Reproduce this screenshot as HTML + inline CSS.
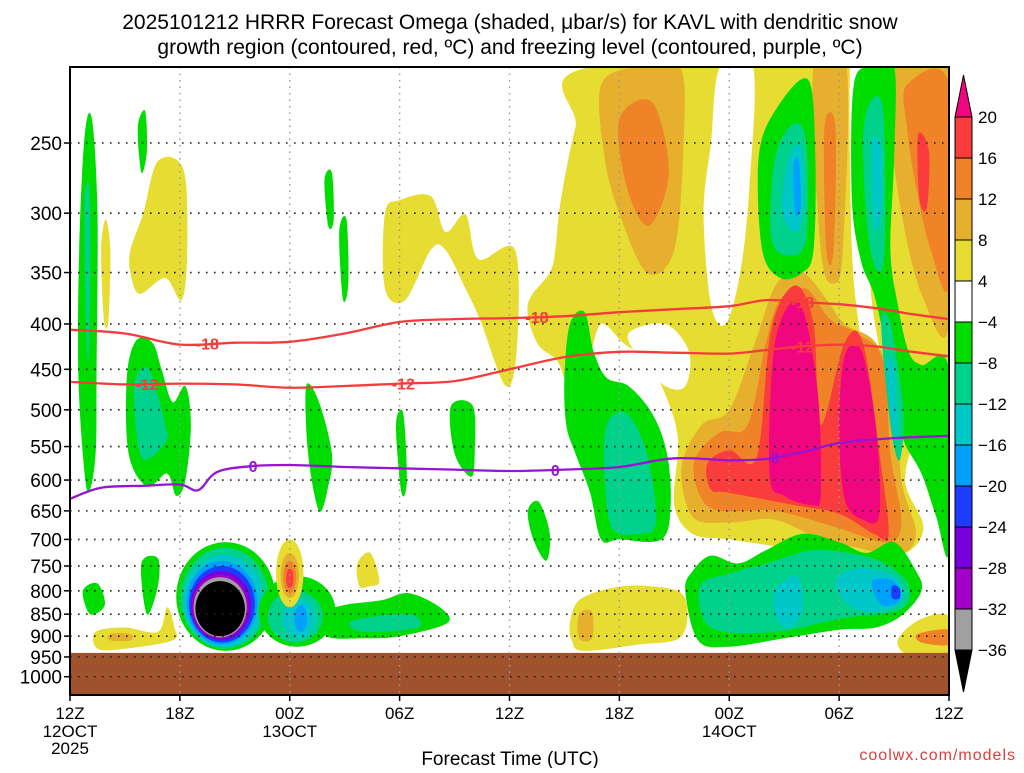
<!DOCTYPE html>
<html><head><meta charset="utf-8">
<style>
html,body{margin:0;padding:0;background:#fff;}
body{width:1024px;height:768px;overflow:hidden;font-family:"Liberation Sans",sans-serif;}
svg text{font-family:"Liberation Sans",sans-serif;}
</style></head>
<body>
<svg id="chart" width="1024" height="768" viewBox="0 0 1024 768" xmlns="http://www.w3.org/2000/svg">
<g>
<text x="510" y="29" text-anchor="middle" font-size="21" fill="#000">2025101212 HRRR Forecast Omega (shaded, μbar/s) for KAVL with dendritic snow</text>
<text x="510" y="54" text-anchor="middle" font-size="21" fill="#000">growth region (contoured, red, ºC) and freezing level (contoured, purple, ºC)</text>
</g>
<g id="fills"></g>
<g id="grid"></g>
<g id="lines"></g>
<g id="axes"></g>
<g id="cbar"></g>
<text x="510" y="765" text-anchor="middle" font-size="19" fill="#000">Forecast Time (UTC)</text>
<text x="1016" y="760" text-anchor="end" font-size="16" fill="#e03c3c" letter-spacing="1">coolwx.com/models</text>
</svg>
<script>
// ---- data ----
const xTickHours = [0,6,12,18,24,30,36,42,48];
const xTickLabels = ["12Z","18Z","00Z","06Z","12Z","18Z","00Z","06Z","12Z"];
const xDateLabels = {0:["12OCT","2025"],12:["13OCT"],36:["14OCT"]};
const yTicks = [250,300,350,400,450,500,550,600,650,700,750,800,850,900,950,1000];
const cbarLevels = ["20","16","12","8","4","-4","-8","-12","-16","-20","-24","-28","-32","-36"];
const cbarColors = ["#fa3c3c","#f08228","#e6af2d","#e6dc32","#ffffff","#00dc00","#00d28c","#00c8c8","#00a0ff","#1e3cff","#7800dc","#a000c8","#a0a0a0"];
const C = {pk:"#f0067e",rd:"#fa3c3c",or:"#f08228",dy:"#e6af2d",ye:"#e6dc32",wh:"#ffffff",gr:"#00dc00",tg:"#00d28c",cy:"#00c8c8",lb:"#00a0ff",bl:"#1e3cff",pu:"#7800dc",mg:"#a000c8",gy:"#a0a0a0",bk:"#000000"};

const contHours = [0,3,6,9,12,15,18,21,24,27,30,33,36,38,40,42,44,46,48];
const tMinus18 = [406,410,422,420,419,410,398,395,394,392,388,385,382,376,378,380,384,390,395];
const tMinus12 = [465,468,467,468,472,470,467,464,450,436,430,431,432,428,424,422,424,430,435];
const contHours0 = [0,1.7,4,6,7,8,9.8,12,15,18,21,24,27,30,33,36,38,40,42,45,48];
const tZero = [630,612,609,607,616,588,579,577,580,582,584,586,584,580,567,570,568,558,545,538,535];
const labels18 = [7.5,25.5,40];
const labels12 = [4.2,18.2,40];
const labels0 = [10,26.5,38.5];

// polygon fills: [level, [[hour,pressure],...]]
const polys = [
 ["ye",[[17.2,300],[18,290],[19.7,287],[20.5,315],[21.6,301],[22.3,338],[24.3,330],[24.4,427],[23.8,470],[22.4,396],[21.6,365],[20.5,330],[19.7,330],[18.3,376],[17.2,365]]],
 ["ye",[[3.3,330],[4,300],[4.8,262],[6.2,268],[6.4,330],[6.1,376],[5.2,355],[3.8,370],[3.3,350]]],
 ["ye",[[1.7,330],[1.95,305],[2.2,330],[2.1,396],[1.85,396]]],
 ["ye",[[26.5,330],[26.8,290],[27.6,240],[28.6,205],[48,205],[48,480],[46.5,520],[45.6,600],[46.6,680],[45.3,730],[42,730],[39,715],[36,700],[34,690],[33,640],[33.2,540],[32.5,480],[31.5,440],[30.2,420],[29,400],[28.3,440],[27.3,470],[26.6,440],[25.5,420],[25,380],[26.2,350]]],
 ["wh",[[35.5,205],[37.3,205],[37.1,280],[36.6,350],[35.8,400],[35,380],[34.6,300],[35,250]]],
 ["wh",[[30.5,410],[32.5,400],[33.8,430],[33.6,470],[32.5,470],[31.2,440]]],
 ["wh",[[42.6,205],[43.2,205],[43.5,300],[43.8,380],[44.6,470],[45,560],[45.4,640],[44.8,700],[44.2,640],[43.8,520],[43.2,420],[42.7,330]]],
 ["dy",[[29,215],[31,205],[33.3,205],[33.5,250],[33,330],[31.5,350],[30,300],[29.2,260]]],
 ["or",[[30,235],[31.8,225],[32.7,270],[31.6,310],[30.4,280]]],
 ["dy",[[40.6,205],[42.4,205],[42.2,330],[41.7,360],[41,330]]],
 ["or",[[41.2,240],[41.8,240],[41.7,330],[41.3,330]]],
 ["dy",[[44.8,205],[48,205],[48,400],[46.5,370],[45.4,300],[44.8,240]]],
 ["or",[[45.7,215],[48,215],[48,360],[47,330],[46.2,280],[45.7,240]]],
 ["rd",[[46.3,245],[46.9,255],[46.8,295],[46.4,290]]],
 ["dy",[[33.4,580],[34.5,520],[36,500],[37.4,420],[38.6,360],[40,350],[41.3,375],[42.3,400],[44,420],[45.1,480],[45.4,600],[46.2,690],[45.2,730],[43,715],[41,700],[38.5,665],[36,670],[34,660]]],
 ["or",[[34.1,570],[35.5,530],[37,520],[38,420],[38.8,375],[40.2,365],[41.5,395],[43,410],[44.4,440],[44.8,560],[45.4,670],[44.6,705],[42,680],[38.5,650],[35.5,650],[34.4,625]]],
 ["rd",[[34.8,575],[36,555],[37.5,565],[38.3,405],[39.6,362],[40.6,400],[41,520],[42.3,420],[43.3,420],[44.2,560],[44.7,690],[43.9,690],[42,655],[39.5,640],[36,620],[35,615]]],
 ["pk",[[38.5,420],[39.8,378],[40.8,470],[41,620],[40.5,640],[39,625],[38.2,590]]],
 ["pk",[[42.3,435],[43.2,428],[44,520],[44.2,655],[43.3,665],[42.3,630],[42,520]]],
 ["gr",[[37.8,330],[37.6,260],[38.5,230],[40.3,212],[40.7,260],[40.6,330],[40,350],[38.8,355]]],
 ["tg",[[38.3,320],[38.5,260],[39.5,238],[40.2,250],[40.2,320],[39.3,335]]],
 ["cy",[[38.9,300],[39.2,262],[39.9,252],[40.1,290],[39.7,315]]],
 ["lb",[[39.5,265],[39.8,262],[39.9,295],[39.6,300]]],
 ["gr",[[42.8,215],[43.8,205],[45,205],[45,260],[44.8,330],[45.2,380],[45.8,430],[46.5,445],[48,450],[48,720],[47.3,660],[46.5,590],[45.5,540],[45,480],[44.5,420],[43.9,370],[43.2,340],[42.7,290]]],
 ["tg",[[43.3,250],[43.7,225],[44.4,230],[44.5,320],[44.2,350],[43.6,320]]],
 ["cy",[[43.8,250],[44.3,255],[44.3,300],[43.9,310]]],
 ["tg",[[44.3,400],[44.8,400],[45.5,500],[45.3,570],[44.8,520]]],
 ["cy",[[44.6,440],[45,450],[45.2,530],[44.9,520]]],
 ["gr",[[0.5,330],[0.8,245],[1.2,235],[1.5,300],[1.45,450],[1.4,560],[1.0,620],[0.7,560],[0.45,450]]],
 ["tg",[[0.8,290],[1.1,290],[1.05,420],[0.9,420]]],
 ["gr",[[3.7,240],[4.1,230],[4.2,255],[3.9,270]]],
 ["gr",[[3.1,460],[3.6,418],[4.5,420],[5,450],[5.6,490],[6.3,470],[6.6,520],[6.3,600],[5.8,625],[5.3,590],[4.2,610],[3.2,560]]],
 ["tg",[[3.5,470],[4.3,450],[5.2,520],[5.2,545],[3.9,565]]],
 ["gr",[[13.9,275],[14.3,270],[14.4,305],[14.1,310]]],
 ["gr",[[14.7,315],[15.1,305],[15.2,360],[14.9,375]]],
 ["gr",[[12.9,470],[13.6,490],[14.3,560],[14.1,610],[13.6,650],[13,560]]],
 ["gr",[[17.8,520],[18.2,505],[18.4,600],[18.1,620]]],
 ["gr",[[20.8,495],[22,495],[22.1,560],[21.9,595],[21,560]]],
 ["gr",[[25,650],[25.6,635],[26.2,690],[26,740],[25.3,700]]],
 ["gr",[[27,460],[27.3,400],[28.1,388],[28.6,430],[29.3,460],[30.5,470],[31.8,505],[32.6,560],[32.8,640],[32.3,700],[30,700],[29,700],[28.4,620],[27.6,560],[27.1,520]]],
 ["tg",[[29.3,520],[30.4,505],[31.5,560],[32,670],[31,690],[29.6,680],[29.2,600]]],
 ["gr",[[0.7,800],[1.5,785],[1.9,830],[1.1,850]]],
 ["gr",[[3.9,745],[4.8,735],[4.8,790],[4.2,850]]],
 ["gr",[[13.7,850],[15,830],[17,820],[18.5,805],[20.2,835],[20.6,870],[18,900],[16,905],[14,900]]],
 ["tg",[[15.4,865],[18.5,850],[19,880],[16,890]]],
 ["ye",[[1.4,890],[3,880],[4.8,890],[5.3,835],[5.7,880],[5.6,910],[3,930],[1.5,930]]],
 ["dy",[[2.2,895],[3.3,895],[3.3,910],[2.2,910]]],
 ["ye",[[15.7,745],[16.4,725],[16.9,780],[16.4,790],[15.8,790]]],
 ["ye",[[27.3,870],[27.8,820],[29.5,795],[31.5,790],[33.5,810],[33.4,900],[31,920],[28,935],[27.4,910]]],
 ["dy",[[27.8,850],[28.5,845],[28.5,905],[27.8,905]]],
 ["gr",[[33.6,800],[34,760],[35,730],[36.5,745],[38,720],[40,690],[42,705],[43.5,725],[45,705],[46.2,760],[46.5,800],[45.5,850],[44,880],[42,885],[39,905],[36,925],[34.3,910]]],
 ["tg",[[34.4,790],[36,765],[38,745],[40.5,720],[42.5,725],[44.5,745],[45.8,790],[45.3,840],[42,860],[38.5,890],[35,880]]],
 ["cy",[[38.5,800],[39.7,770],[40,840],[39.3,880],[38.6,860]]],
 ["cy",[[41.8,780],[43,755],[45,770],[45.5,820],[44,845],[42.5,830]]],
 ["lb",[[43.8,780],[45,780],[45.3,820],[44.3,830]]],
 ["bl",[[44.9,790],[45.3,795],[45.3,815],[44.9,815]]],
 ["ye",[[45.3,900],[46.5,860],[48,855],[48,945],[46,945],[45.3,930]]],
 ["or",[[46.3,895],[48,885],[48,920],[46.5,915]]]
];
// elliptical fills: [level, hourCenter, halfWidthHours, pTop, pBottom]
const rings = [
 ["gr",8.5,2.7,705,935],["tg",8.45,2.4,715,930],["cy",8.4,2.2,728,925],["lb",8.3,1.95,740,920],
 ["bl",8.3,1.8,750,915],["pu",8.25,1.65,760,910],["mg",8.2,1.55,767,905],["gy",8.2,1.45,772,903],["bk",8.2,1.35,780,900],
 ["gr",12.4,2.1,770,925],["tg",12.3,1.5,800,915],["cy",12.5,0.9,815,905],["lb",12.6,0.35,830,890],
 ["ye",12,0.75,700,835],["dy",12,0.5,725,815],["or",12,0.35,740,805],["rd",12,0.2,755,795]
];
const groundTop = 940;

// ---- scales ----
const X0=70, X1=949, Y0=67, Y1=695;
const xS = h => X0 + h*(X1-X0)/48;
const yS = p => 143 + 385*Math.log(p/250);
const NS="http://www.w3.org/2000/svg";
function el(tag, attrs, parent){const e=document.createElementNS(NS,tag);for(const k in attrs)e.setAttribute(k,attrs[k]);parent.appendChild(e);return e;}
function smoothClosed(pts){
  const n=pts.length;let d=`M${pts[0][0].toFixed(1)},${pts[0][1].toFixed(1)}`;
  for(let i=0;i<n;i++){const p0=pts[(i-1+n)%n],p1=pts[i],p2=pts[(i+1)%n],p3=pts[(i+2)%n];
    const c1=[p1[0]+(p2[0]-p0[0])/6,p1[1]+(p2[1]-p0[1])/6],c2=[p2[0]-(p3[0]-p1[0])/6,p2[1]-(p3[1]-p1[1])/6];
    d+=`C${c1[0].toFixed(1)},${c1[1].toFixed(1)} ${c2[0].toFixed(1)},${c2[1].toFixed(1)} ${p2[0].toFixed(1)},${p2[1].toFixed(1)}`;}
  return d+"Z";
}
function smoothOpen(pts){
  let d=`M${pts[0][0].toFixed(1)},${pts[0][1].toFixed(1)}`;
  for(let i=0;i<pts.length-1;i++){const p0=pts[Math.max(i-1,0)],p1=pts[i],p2=pts[i+1],p3=pts[Math.min(i+2,pts.length-1)];
    const c1=[p1[0]+(p2[0]-p0[0])/6,p1[1]+(p2[1]-p0[1])/6],c2=[p2[0]-(p3[0]-p1[0])/6,p2[1]-(p3[1]-p1[1])/6];
    d+=`C${c1[0].toFixed(1)},${c1[1].toFixed(1)} ${c2[0].toFixed(1)},${c2[1].toFixed(1)} ${p2[0].toFixed(1)},${p2[1].toFixed(1)}`;}
  return d;
}
const svg=document.getElementById('chart');
const defs=el('defs',{},svg);
const cp=el('clipPath',{id:'plotclip'},defs);
el('rect',{x:X0,y:Y0,width:X1-X0,height:Y1-Y0},cp);

const fills=document.getElementById('fills');
fills.setAttribute('clip-path','url(#plotclip)');
polys.forEach((f,i)=>{
  const pts=f[1].map(q=>[xS(q[0]),yS(q[1])]);
  const path=el('path',{d:smoothClosed(pts),fill:C[f[0]]},fills);
  
  
});
rings.forEach(r=>{
  const cx=xS(r[1]), rx=r[2]*(X1-X0)/48, yt=yS(r[3]), yb=yS(r[4]);
  const e=el('ellipse',{cx:cx,cy:(yt+yb)/2,rx:rx,ry:(yb-yt)/2,fill:C[r[0]]},fills);
  
  
});
const ground=el('rect',{x:X0,y:yS(groundTop),width:X1-X0,height:Y1-yS(groundTop),fill:'#a0522d'},fills);



// grid
const grid=document.getElementById('grid');
yTicks.forEach(p=>{
  const l=el('line',{x1:X0,x2:X1,y1:yS(p),y2:yS(p),stroke:'#222','stroke-width':1.6,'stroke-dasharray':'1.6 6.4'},grid);
  
  
});
xTickHours.slice(1,-1).forEach(h=>{
  const l=el('line',{x1:xS(h),x2:xS(h),y1:Y0,y2:Y1,stroke:'#999','stroke-width':1.4,'stroke-dasharray':'1.5 5'},grid);
  
  
});

// contour lines
const lines=document.getElementById('lines');
function drawLine(hours,vals,color,name,lbls,txt){
  const pts=hours.map((h,i)=>[xS(h),yS(vals[i])]);
  const g=el('g',{},lines);
  
  
  el('path',{d:smoothOpen(pts),fill:'none',stroke:color,'stroke-width':2.3},g);
  lbls.forEach(h=>{
    let i=0;while(i<hours.length-2&&hours[i+1]<h)i++;
    const t=(h-hours[i])/(hours[i+1]-hours[i]);const p=vals[i]+(vals[i+1]-vals[i])*t;
    const tx=el('text',{x:xS(h),y:yS(p)+6,'text-anchor':'middle','font-size':16,'font-weight':'bold',fill:color},g);
    tx.textContent=txt;
    
    
  });
}
drawLine(contHours,tMinus18,'#f53c3c','contour-minus18',labels18,'-18');
drawLine(contHours,tMinus12,'#f53c3c','contour-minus12',labels12,'-12');
drawLine(contHours0,tZero,'#9614d2','freezing-level-0c',labels0,'0');

// axes
const axes=document.getElementById('axes');
el('rect',{x:X0,y:Y0,width:X1-X0,height:Y1-Y0,fill:'none',stroke:'#000','stroke-width':2},axes);
yTicks.forEach(p=>{
  el('line',{x1:X0-6,x2:X0,y1:yS(p),y2:yS(p),stroke:'#000','stroke-width':1.5},axes);
  const t=el('text',{x:X0-8,y:yS(p)+7,'text-anchor':'end','font-size':19,fill:'#000'},axes);
  t.textContent=p;
  
  
});
xTickHours.forEach((h,i)=>{
  el('line',{x1:xS(h),x2:xS(h),y1:Y1,y2:Y1+6,stroke:'#000','stroke-width':1.5},axes);
  const t=el('text',{x:xS(h),y:Y1+24,'text-anchor':'middle','font-size':17,fill:'#000'},axes);
  t.textContent=xTickLabels[i];
  
  
  (xDateLabels[h]||[]).forEach((s,j)=>{
    const d=el('text',{x:xS(h),y:Y1+42+j*17,'text-anchor':'middle','font-size':17,fill:'#000'},axes);
    d.textContent=s;
    
    
  });
});

// colorbar
const cb=document.getElementById('cbar');
const cbx=955, cbw=17, cbTop=117, cbStep=41;
el('polygon',{points:`${cbx},${cbTop} ${cbx+cbw},${cbTop} ${cbx+cbw/2},${cbTop-42}`,fill:C.pk,stroke:'#000','stroke-width':1},cb);
cbarColors.forEach((c,i)=>{
  const r=el('rect',{x:cbx,y:cbTop+i*cbStep,width:cbw,height:cbStep,fill:c,stroke:'#000','stroke-width':1},cb);
  
  
});
const cbBot=cbTop+cbarColors.length*cbStep;
el('polygon',{points:`${cbx},${cbBot} ${cbx+cbw},${cbBot} ${cbx+cbw/2},${cbBot+42}`,fill:'#000',stroke:'#000','stroke-width':1},cb);
cbarLevels.forEach((s,i)=>{
  const t=el('text',{x:cbx+cbw+6,y:cbTop+i*cbStep+6,'font-size':17,fill:'#000'},cb);
  t.textContent=s.replace('-','−');
  
  
});
</script>
</body></html>
